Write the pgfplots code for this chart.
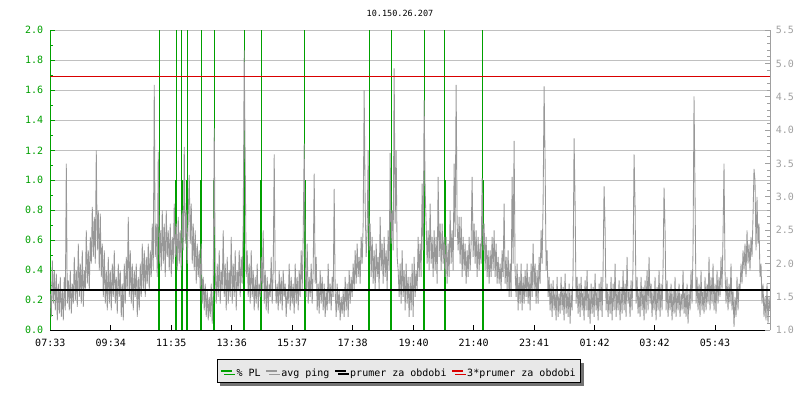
\documentclass[border=0pt]{standalone}
\usepackage{fontspec}
\setmainfont{DejaVu Sans Mono}
\setmonofont{DejaVu Sans Mono}
\usepackage{pgfplots}
\pgfplotsset{compat=1.18}
\usetikzlibrary{shadows}
\definecolor{plgreen}{HTML}{00A000}
\definecolor{pinggray}{HTML}{989898}
\definecolor{gridgray}{HTML}{C0C0C0}
\definecolor{raxgray}{HTML}{A0A0A0}
\definecolor{legbg}{HTML}{E8E8E8}
\newcommand\lstrut{\rule[-4.5pt]{0pt}{16pt}\hspace{1.5pt}}
\begin{document}
\begin{tikzpicture}[font=\fontsize{10}{12}\selectfont]
\useasboundingbox (-50.3pt,-69.7pt) rectangle (749.7pt,330.3pt);
\pgfplotsset{
  common/.style={
    scale only axis, width=719.7pt, height=300pt,
    xmin=0, xmax=720, clip=true,
    tick align=inside, major tick length=5pt, minor tick length=3pt,
    /pgf/number format/assume math mode=true,
    /pgf/number format/.cd, fixed, fixed zerofill, precision=1, /pgfplots/.cd,
    tick label style={font=\fontsize{10}{12}\selectfont},
  }
}
\begin{axis}[common,
  ymin=0, ymax=2,
  axis y line*=left, axis x line*=bottom,
  x axis line style={black, line width=1pt, -},
  y axis line style={plgreen, line width=1pt, -},
  xtick={0,60.5,121,181.5,242,302.5,363.5,423.5,484,544.5,604.5,665},
  xticklabels={07:33,09:34,11:35,13:36,15:37,17:38,19:40,21:40,23:41,01:42,03:42,05:43},
  x tick style={black, line width=1pt},
  xticklabel style={yshift=-5pt},
  ytick={0,0.2,...,2.01}, minor y tick num=1,
  y tick style={plgreen, line width=1pt},
  yticklabel style={plgreen, xshift=-3.5pt},
  ymajorgrids, grid style={gridgray, line width=0.9pt},
  title={10.150.26.207},
  title style={at={(0.4859,1)}, anchor=center, yshift=11pt, font=\fontsize{8.5}{10}\selectfont},
]
\addplot[ycomb, plgreen, line width=1.1pt, no markers] coordinates {
(108.2,1.0)(109.2,5)(125.2,1.0)(126.2,5)(131.2,5)(132.2,1.0)(136.2,1.0)(137.2,5)
(150.2,1.0)(151.2,5)(163.2,1.0)(164.2,5)(193.2,1.0)(194.2,5)(210.2,1.0)(211.2,5)
(254.2,5)(255.2,1.0)(318.2,1.0)(319.2,5)(340.2,1.0)(341.2,5)(373.2,1.0)(374.2,5)
(394.2,5)(395.2,1.0)(432.2,5)(433.2,1.0)
};
\end{axis}
\begin{axis}[common,
  ymin=1, ymax=5.5,
  axis y line*=right, axis x line=none,
  y axis line style={raxgray, line width=1pt, -},
  ytick={1,1.5,...,5.51}, minor y tick num=4,
  y tick style={raxgray, line width=1pt},
  yticklabel style={raxgray, xshift=2.3pt},
  legend columns=4,
  legend style={at={(0.4845,-0.1357)}, anchor=center, fill=legbg, draw=black, line width=1pt,
    font=\fontsize{10}{12}\selectfont, inner xsep=3pt, inner ysep=3pt,
    drop shadow={shadow xshift=3pt, shadow yshift=-3pt, fill=black!55, opacity=1},
    /tikz/every even column/.append style={column sep=2.5pt}},
  legend cell align=left,
  legend image code/.code={\draw[#1, line width=2pt, line cap=butt] (0pt,0pt) -- (10.7pt,0pt);},
]
\addlegendimage{plgreen}
\addlegendentry{\lstrut\% PL}
\addplot[pinggray, line width=0.85pt, no markers, line join=bevel] coordinates {
(0,1.55)(1,1.2)(2,2.05)(3,1.4)(4,1.9)(5,1.3)(6,1.85)(7,1.15)(8,1.7)(9,1.25)
(10,1.8)(11,1.2)(12,1.6)(13,1.15)(14,1.8)(15,1.3)(16,3.5)(17,1.4)(18,1.75)(19,1.3)
(20,1.9)(21,1.25)(22,1.7)(23,1.4)(24,2.1)(25,1.45)(26,1.9)(27,1.35)(28,2.3)(29,1.5)
(30,2.0)(31,1.4)(32,2.2)(33,1.35)(34,1.9)(35,1.6)(36,2.5)(37,1.7)(38,2.2)(39,1.6)
(40,2.4)(41,2.0)(42,2.85)(43,2.1)(44,2.7)(45,2.0)(46,3.7)(47,2.2)(48,2.8)(49,1.9)
(50,2.75)(51,1.8)(52,2.3)(53,1.5)(54,2.2)(55,1.4)(56,1.9)(57,1.3)(58,2.1)(59,1.4)
(60,1.9)(61,1.3)(62,2.0)(63,1.5)(64,2.2)(65,1.4)(66,1.8)(67,1.25)(68,2.0)(69,1.5)
(70,1.9)(71,1.2)(72,1.7)(73,1.15)(74,2.0)(75,1.4)(76,2.1)(77,1.6)(78,2.7)(79,1.5)
(80,2.2)(81,1.4)(82,2.0)(83,1.3)(84,1.9)(85,1.5)(86,2.0)(87,1.2)(88,1.8)(89,1.3)
(90,2.0)(91,1.5)(92,2.3)(93,1.6)(94,2.2)(95,1.5)(96,2.1)(97,1.7)(98,2.3)(99,1.6)
(100,2.2)(101,1.8)(102,2.6)(103,1.9)(104,4.68)(105,2.1)(106,2.6)(107,1.8)(108,3.68)(109,2.0)
(110,2.5)(111,1.9)(112,2.8)(113,2.0)(114,2.6)(115,1.8)(116,2.8)(117,2.1)(118,2.5)(119,1.9)
(120,2.6)(121,1.8)(122,2.4)(123,2.0)(124,2.9)(125,2.1)(126,2.6)(127,1.9)(128,2.7)(129,2.0)
(130,2.5)(131,1.9)(132,2.8)(133,2.2)(134,3.75)(135,2.3)(136,2.8)(137,2.0)(138,2.7)(139,3.33)
(140,2.3)(141,2.9)(142,2.0)(143,2.6)(144,1.9)(145,2.5)(146,1.7)(147,2.3)(148,1.8)(149,2.2)
(150,1.6)(151,2.3)(152,1.4)(153,1.8)(154,1.3)(155,1.7)(156,1.2)(157,1.6)(158,1.15)(159,1.5)
(160,1.2)(161,1.7)(162,1.1)(163,1.6)(164,4.03)(165,1.9)(166,1.4)(167,2.0)(168,1.5)(169,2.2)
(170,1.4)(171,1.9)(172,1.6)(173,2.5)(174,1.5)(175,2.0)(176,1.3)(177,2.1)(178,1.4)(179,1.9)
(180,1.5)(181,2.4)(182,1.4)(183,2.0)(184,1.5)(185,2.2)(186,1.3)(187,1.9)(188,1.6)(189,2.2)
(190,1.5)(191,2.1)(192,1.7)(193,2.6)(194,5.2)(195,3.5)(196,1.8)(197,2.2)(198,1.5)(199,2.0)
(200,1.4)(201,2.2)(202,1.5)(203,1.9)(204,1.3)(205,1.8)(206,1.4)(207,2.0)(208,1.3)(209,1.7)
(210,1.5)(211,2.1)(212,1.6)(213,2.5)(214,1.4)(215,1.9)(216,1.3)(217,1.8)(218,1.25)(219,1.7)
(220,1.5)(221,2.1)(222,1.4)(223,1.9)(224,3.64)(225,1.8)(226,1.4)(227,1.7)(228,1.3)(229,1.9)
(230,1.4)(231,1.8)(232,1.3)(233,1.9)(234,1.5)(235,1.7)(236,1.2)(237,1.6)(238,1.4)(239,2.0)
(240,1.3)(241,1.8)(242,1.4)(243,1.7)(244,1.25)(245,2.0)(246,1.4)(247,1.8)(248,1.3)(249,1.9)
(250,1.5)(251,2.2)(252,1.6)(253,2.4)(254,3.8)(255,2.0)(256,1.5)(257,2.3)(258,1.4)(259,1.8)
(260,1.5)(261,2.0)(262,1.4)(263,1.9)(264,3.35)(265,1.7)(266,2.1)(267,1.3)(268,1.7)(269,1.25)
(270,1.9)(271,1.4)(272,1.8)(273,1.3)(274,1.7)(275,1.2)(276,1.6)(277,1.3)(278,2.0)(279,1.4)
(280,1.7)(281,1.3)(282,1.8)(283,1.5)(284,3.12)(285,1.6)(286,1.2)(287,1.7)(288,1.3)(289,1.6)
(290,1.15)(291,1.5)(292,1.25)(293,1.6)(294,1.2)(295,1.8)(296,1.3)(297,1.7)(298,1.2)(299,1.9)
(300,1.4)(301,1.8)(302,1.5)(303,2.0)(304,1.6)(305,2.2)(306,1.7)(307,2.3)(308,1.8)(309,2.1)
(310,1.7)(311,2.4)(312,2.0)(313,2.6)(314,4.6)(315,2.9)(316,2.1)(317,2.5)(318,3.7)(319,2.2)
(320,2.6)(321,1.8)(322,2.4)(323,1.7)(324,2.2)(325,1.6)(326,2.3)(327,1.8)(328,2.1)(329,1.6)
(330,2.7)(331,1.9)(332,2.3)(333,1.7)(334,2.4)(335,1.8)(336,2.2)(337,1.6)(338,2.5)(339,1.9)
(340,3.66)(341,2.3)(342,2.8)(343,2.2)(344,4.93)(345,2.6)(346,3.7)(347,2.1)(348,1.9)(349,1.5)
(350,2.0)(351,1.4)(352,2.2)(353,1.5)(354,1.9)(355,1.3)(356,2.0)(357,1.4)(358,1.8)(359,1.2)
(360,1.8)(361,1.3)(362,2.0)(363,1.2)(364,2.1)(365,1.5)(366,1.9)(367,1.6)(368,2.4)(369,1.8)
(370,2.3)(371,1.8)(372,3.2)(373,2.2)(374,4.45)(375,3.1)(376,2.6)(377,2.0)(378,2.5)(379,1.9)
(380,2.9)(381,2.0)(382,2.4)(383,1.8)(384,2.5)(385,1.9)(386,2.4)(387,1.7)(388,3.3)(389,2.1)
(390,2.6)(391,1.9)(392,2.6)(393,2.0)(394,2.4)(395,1.8)(396,2.4)(397,1.7)(398,2.3)(399,1.8)
(400,2.8)(401,2.0)(402,2.5)(403,1.9)(404,3.5)(405,2.4)(406,4.68)(407,2.6)(408,2.2)(409,2.7)
(410,2.0)(411,2.7)(412,1.8)(413,2.4)(414,1.9)(415,2.3)(416,1.7)(417,2.2)(418,1.8)(419,2.4)
(420,1.9)(421,2.3)(422,3.3)(423,2.1)(424,2.6)(425,2.0)(426,2.5)(427,1.8)(428,2.4)(429,1.9)
(430,2.3)(431,2.0)(432,3.28)(433,2.2)(434,2.6)(435,1.9)(436,2.4)(437,1.8)(438,2.2)(439,1.7)
(440,2.2)(441,1.8)(442,2.4)(443,1.9)(444,2.5)(445,1.8)(446,2.3)(447,1.7)(448,2.1)(449,1.7)
(450,2.0)(451,1.6)(452,2.2)(453,1.8)(454,2.9)(455,1.7)(456,2.1)(457,1.6)(458,2.2)(459,1.5)
(460,2.0)(461,1.5)(462,3.3)(463,2.0)(464,3.84)(465,1.9)(466,1.5)(467,2.0)(468,1.3)(469,1.8)
(470,1.4)(471,2.0)(472,1.3)(473,1.8)(474,1.4)(475,1.9)(476,1.5)(477,2.0)(478,1.4)(479,1.8)
(480,1.3)(481,2.0)(482,1.5)(483,2.3)(484,1.6)(485,2.0)(486,1.4)(487,1.9)(488,1.4)(489,2.1)
(490,1.7)(491,2.5)(492,2.0)(493,2.9)(494,4.66)(495,3.55)(496,1.9)(497,2.2)(498,1.5)(499,1.8)
(500,1.3)(501,1.7)(502,1.2)(503,1.75)(504,1.3)(505,1.6)(506,1.15)(507,1.8)(508,1.2)(509,1.55)
(510,1.25)(511,1.8)(512,1.3)(513,1.65)(514,1.15)(515,1.85)(516,1.25)(517,1.6)(518,1.2)(519,1.7)
(520,1.1)(521,1.6)(522,1.3)(523,1.9)(524,3.88)(525,2.93)(526,1.4)(527,1.8)(528,1.25)(529,1.7)
(530,1.2)(531,1.8)(532,1.3)(533,1.6)(534,1.15)(535,1.75)(536,1.3)(537,1.9)(538,1.2)(539,1.6)
(540,1.1)(541,1.7)(542,1.25)(543,1.65)(544,1.2)(545,1.85)(546,1.3)(547,1.6)(548,1.15)(549,1.7)
(550,1.3)(551,1.8)(552,1.2)(553,1.9)(554,3.16)(555,2.55)(556,1.3)(557,1.7)(558,1.2)(559,1.6)
(560,1.25)(561,1.8)(562,1.15)(563,1.7)(564,1.3)(565,2.0)(566,1.2)(567,1.6)(568,1.3)(569,1.75)
(570,1.15)(571,1.65)(572,1.25)(573,1.9)(574,1.3)(575,1.7)(576,1.2)(577,2.1)(578,1.4)(579,1.6)
(580,1.2)(581,1.75)(582,1.3)(583,2.0)(584,3.64)(585,2.9)(586,1.4)(587,1.8)(588,1.25)(589,1.6)
(590,1.2)(591,1.8)(592,1.3)(593,1.65)(594,1.15)(595,1.75)(596,1.25)(597,1.9)(598,1.3)(599,2.1)
(600,1.4)(601,1.7)(602,1.2)(603,1.6)(604,1.3)(605,1.8)(606,1.15)(607,1.65)(608,1.3)(609,1.9)
(610,1.2)(611,1.7)(612,1.3)(613,1.9)(614,3.14)(615,2.53)(616,1.3)(617,1.75)(618,1.2)(619,1.6)
(620,1.3)(621,1.7)(622,1.15)(623,1.6)(624,1.25)(625,1.8)(626,1.2)(627,1.6)(628,1.3)(629,1.7)
(630,1.2)(631,1.55)(632,1.3)(633,1.9)(634,1.25)(635,1.6)(636,1.2)(637,1.7)(638,1.1)(639,1.6)
(640,1.3)(641,1.9)(642,1.4)(643,2.2)(644,4.51)(645,3.06)(646,1.4)(647,1.8)(648,1.3)(649,1.7)
(650,1.2)(651,1.9)(652,1.3)(653,1.6)(654,1.25)(655,1.8)(656,1.3)(657,1.7)(658,1.4)(659,2.1)
(660,1.3)(661,1.8)(662,1.4)(663,2.0)(664,1.3)(665,1.7)(666,1.25)(667,1.9)(668,1.4)(669,1.8)
(670,1.5)(671,2.1)(672,1.6)(673,2.4)(674,3.5)(675,1.9)(676,1.4)(677,1.8)(678,1.3)(679,1.7)
(680,1.4)(681,2.0)(682,1.3)(683,1.6)(684,1.05)(685,1.5)(686,1.2)(687,1.8)(688,1.3)(689,1.7)
(690,1.6)(691,2.0)(692,1.7)(693,2.2)(694,1.9)(695,2.3)(696,1.8)(697,2.5)(698,2.0)(699,2.3)
(700,1.9)(701,2.4)(702,2.1)(703,2.7)(704,3.42)(705,3.25)(706,2.2)(707,3.0)(708,2.3)(709,2.6)
(710,1.8)(711,2.0)(712,1.4)(713,1.7)(714,1.2)(715,1.5)(716,1.15)(717,1.7)(718,1.1)(719,1.5)
(720,1.3)
};
\addlegendentry{\lstrut avg ping}
\addplot[black, line width=2pt, no markers] coordinates {(0,1.6)(720,1.6)};
\addlegendentry{\lstrut prumer za obdobi}
\addplot[red!85!black, line width=1pt, no markers] coordinates {(0,4.8)(720,4.8)};
\addlegendentry{\lstrut 3*prumer za obdobi}
\end{axis}
\end{tikzpicture}
\end{document}
